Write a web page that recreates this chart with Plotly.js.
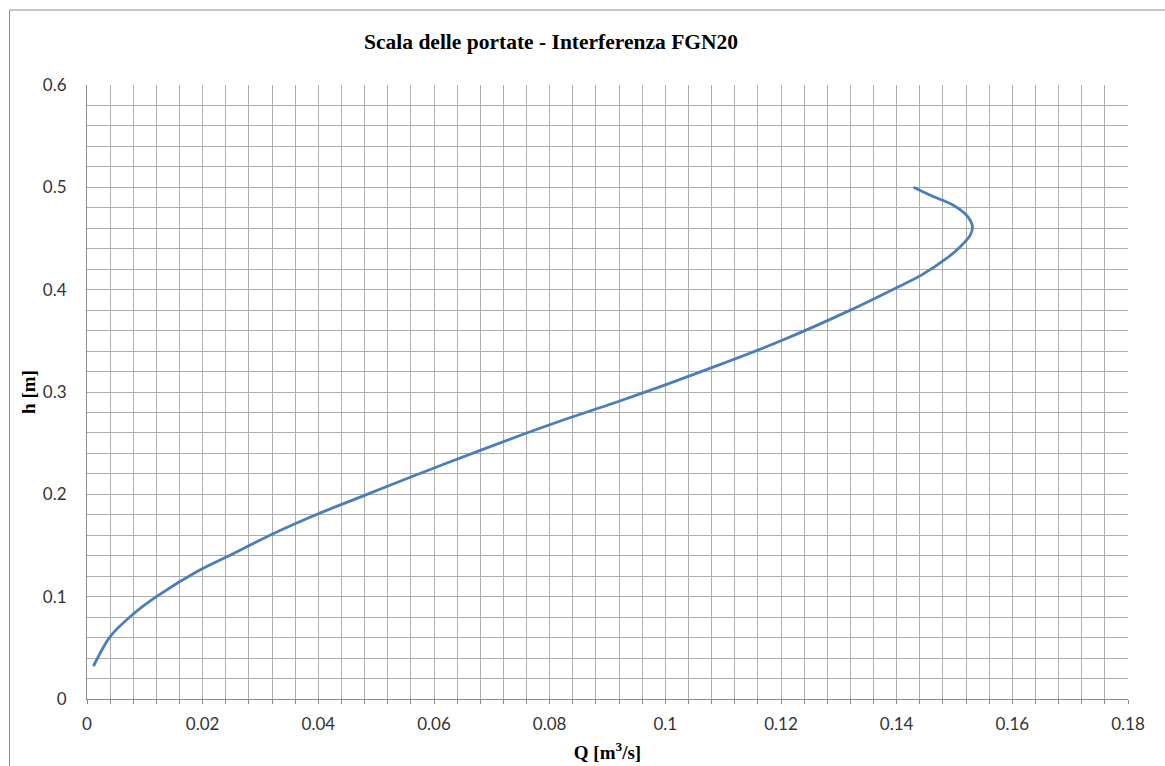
<!DOCTYPE html>
<html>
<head>
<meta charset="utf-8">
<script src="https://cdn.plot.ly/plotly-3.0.1.min.js"></script>
<style>
html,body{margin:0;padding:0;background:#fff;}
#chart{width:1165px;height:766px;}
</style>
</head>
<body>
<div id="chart"></div>
<script>
// Rating curve: discharge Q [m3/s] vs water depth h [m]
const Q = [0.0011, 0.004, 0.008, 0.012, 0.0195, 0.0242, 0.032, 0.040, 0.048, 0.056, 0.068, 0.080, 0.092, 0.100, 0.110, 0.120, 0.132, 0.140, 0.1442, 0.1485, 0.151, 0.1527, 0.1531, 0.1522, 0.1495, 0.1463, 0.1429];
const h = [0.032, 0.061, 0.083, 0.100, 0.126, 0.139, 0.161, 0.181, 0.199, 0.217, 0.243, 0.268, 0.291, 0.307, 0.328, 0.350, 0.380, 0.402, 0.414, 0.430, 0.442, 0.453, 0.4615, 0.472, 0.4835, 0.491, 0.500];

const xTickVals = [0, 0.02, 0.04, 0.06, 0.08, 0.1, 0.12, 0.14, 0.16, 0.18];
const xTickText = ['0', '0.02', '0.04', '0.06', '0.08', '0.1', '0.12', '0.14', '0.16', '0.18'];
const yTickVals = [0, 0.1, 0.2, 0.3, 0.4, 0.5, 0.6];
const yTickText = ['0', '0.1', '0.2', '0.3', '0.4', '0.5', '0.6'];

const gridCol = '#adadad';
const tickFont = {family: 'Lato, "Open Sans", sans-serif', size: 17, color: '#333'};
const serif = '"Liberation Serif", "Times New Roman", serif';

const trace = {
  x: Q, y: h, type: 'scatter', mode: 'lines',
  line: {color: '#4a7ebb', width: 2.8, shape: 'spline', smoothing: 0.8},
  hoverinfo: 'x+y'
};

const layout = {
  width: 1165, height: 766,
  margin: {l: 87, r: 37, t: 85, b: 67},
  paper_bgcolor: '#fff', plot_bgcolor: '#fff',
  showlegend: false,
  title: {
    text: '<b>Scala delle portate - Interferenza FGN20</b>',
    font: {family: serif, size: 21.5, color: '#000'},
    xref: 'container', x: 0.473, xanchor: 'center',
    yref: 'container', y: 1 - 41/766, yanchor: 'middle'
  },
  xaxis: {
    range: [0, 0.18], tickvals: xTickVals, ticktext: xTickText,
    showgrid: true, gridcolor: gridCol, gridwidth: 1,
    zeroline: false, showline: true, linecolor: '#8c8c8c', linewidth: 1,
    ticks: 'outside', ticklen: 4, tickcolor: '#8c8c8c',
    ticklabelstandoff: 6,
    tickfont: tickFont,
    minor: {dtick: 0.004, tick0: 0, showgrid: true, gridcolor: gridCol, gridwidth: 1, ticks: 'outside', ticklen: 4, tickcolor: '#8c8c8c'},
    title: {text: '<b>Q [m<sup>3</sup>/s]</b>', font: {family: serif, size: 19, color: '#000'}, standoff: 12},
    fixedrange: true
  },
  yaxis: {
    range: [0, 0.6], tickvals: yTickVals, ticktext: yTickText,
    showgrid: true, gridcolor: gridCol, gridwidth: 1,
    zeroline: false, showline: true, linecolor: '#8c8c8c', linewidth: 1,
    ticks: '', ticklabelstandoff: 16,
    tickfont: tickFont,
    minor: {dtick: 0.02, tick0: 0, showgrid: true, gridcolor: gridCol, gridwidth: 1},
    title: {text: '<b>h [m]</b>', font: {family: serif, size: 19, color: '#000'}, standoff: 2},
    fixedrange: true
  },
  shapes: [
    {type: 'line', xref: 'paper', yref: 'paper', x0: (9.5-87)/1041, x1: (9.5-87)/1041, y0: (699-10)/614, y1: (699-770)/614, line: {color: '#8a8a8a', width: 1}},
    {type: 'line', xref: 'paper', yref: 'paper', x0: (9.5-87)/1041, x1: (1170-87)/1041, y0: (699-10)/614, y1: (699-10)/614, line: {color: '#8a8a8a', width: 1}}
  ]
};

Plotly.newPlot('chart', [trace], layout, {displayModeBar: false, staticPlot: true});
</script>
</body>
</html>
